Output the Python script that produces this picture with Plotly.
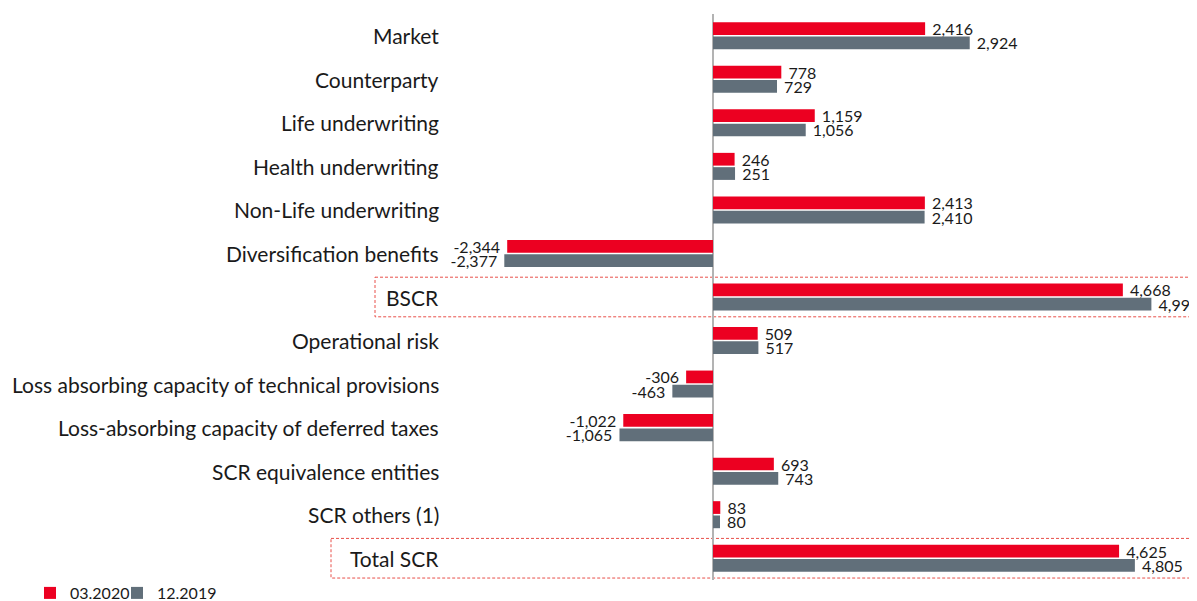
import plotly.graph_objects as go

categories = ["Market", "Counterparty", "Life underwriting", "Health underwriting",
              "Non-Life underwriting", "Diversification benefits", "BSCR",
              "Operational risk", "Loss absorbing capacity of technical provisions",
              "Loss-absorbing capacity of deferred taxes", "SCR equivalence entities",
              "SCR others (1)", "Total SCR"]
values_2020 = [2416, 778, 1159, 246, 2413, -2344, 4668, 509, -306, -1022, 693, 83, 4625]
values_2019 = [2924, 729, 1056, 251, 2410, -2377, 4993, 517, -463, -1065, 743, 80, 4805]
series_names = ["03.2020", "12.2019"]
highlighted = ["BSCR", "Total SCR"]

RED = "#ec0021"
GREY = "#616f7a"
FONT = "Lato"
NB = "\u00a0"

# the page body adds an 8px offset; figure is sized so that it fits the window
OFF = 8
W, H = 1197 - OFF, 601 - OFF
zero_px = 713 - OFF
k = 0.0878  # px per unit
xr = [-zero_px / k, (W - zero_px) / k]


def label(v):
    s = f"{v:,}"
    return NB + s if v >= 0 else s + NB


fig = go.Figure()
for name, vals, col, lg in [(series_names[0], values_2020, RED, "legend"),
                            (series_names[1], values_2019, GREY, "legend2")]:
    fig.add_trace(go.Bar(
        y=categories, x=vals, orientation="h", name=name, legend=lg,
        marker=dict(color=col, line=dict(width=0)),
        text=[label(v) for v in vals], textposition="outside",
        textfont=dict(family=FONT, size=16, color="#1a1a1a"),
        constraintext="none",
        cliponaxis=False,
    ))

annotations = []
for c in categories:
    annotations.append(dict(
        x=(441 - OFF) / W, xref="paper", y=c, yref="y", text=c, showarrow=False,
        xanchor="right", yanchor="middle",
        font=dict(family=FONT, size=21, color="#1a1a1a")))

shapes = []
box_left = {"BSCR": 375, "Total SCR": 331}
for c in highlighted:
    i = categories.index(c)
    shapes.append(dict(
        type="rect", xref="paper", yref="y",
        x0=(box_left[c] - OFF) / W, x1=1.02, y0=i - 0.455, y1=i + 0.455,
        line=dict(color="#e8504a", width=1, dash="3px,2px"),
        fillcolor="rgba(0,0,0,0)", layer="below"))

plot_h = (580 - OFF) - (14 - OFF)
leg_common = dict(orientation="h", xanchor="left", yanchor="top", y=4 / plot_h,
                  font=dict(family=FONT, size=16, color="#1a1a1a"),
                  itemwidth=30, bgcolor="rgba(0,0,0,0)")

fig.update_layout(
    width=W, height=H,
    margin=dict(l=0, r=0, t=14 - OFF, b=H - (580 - OFF), autoexpand=False),
    paper_bgcolor="white", plot_bgcolor="white",
    barmode="group", bargap=0.343, bargroupgap=0.11,
    showlegend=True,
    legend=dict(x=(49 - 19 - OFF) / W, **leg_common),
    legend2=dict(x=(136 - 19 - OFF) / W, **leg_common),
    xaxis=dict(range=xr, showgrid=False, showticklabels=False, zeroline=True,
               zerolinecolor="#b3b3b3", zerolinewidth=2, fixedrange=True),
    yaxis=dict(autorange="reversed", showgrid=False, showticklabels=False,
               type="category", fixedrange=True),
    annotations=annotations, shapes=shapes,
    font=dict(family=FONT),
)

fig.write_html("out.html")
